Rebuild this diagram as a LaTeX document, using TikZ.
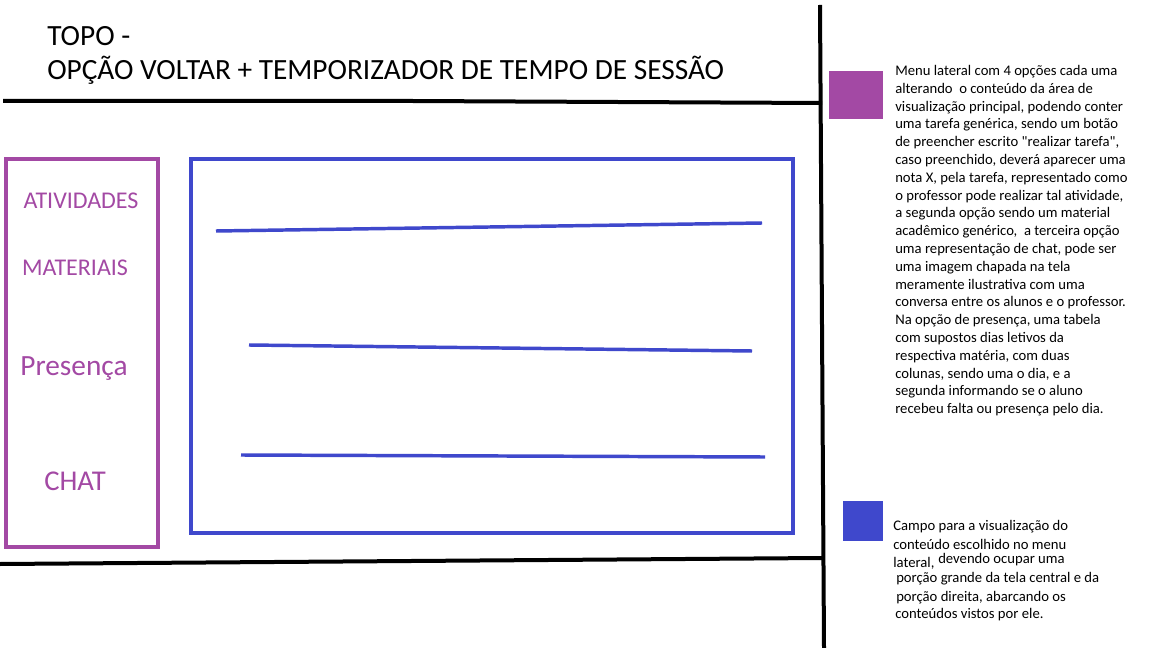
\documentclass[tikz,border=0pt]{standalone}
\usepackage{fontspec}
\setmainfont{Carlito}
\definecolor{mpurple}{HTML}{A349A4}
\definecolor{mblue}{HTML}{3F48CC}
\begin{document}
\begin{tikzpicture}[x=0.75pt,y=-0.75pt,
  blk/.style={line width=3pt,black},
  pbox/.style={draw=mpurple,line width=3pt},
  bbox/.style={draw=mblue,line width=3pt},
  bline/.style={draw=mblue,line width=2.6pt},
  title/.style={anchor=base west,inner sep=0pt,font=\fontsize{22}{26}\selectfont},
  menu/.style={inner sep=0pt,text=mpurple,font=\fontsize{18}{22}\selectfont},
  note/.style={anchor=base west,inner sep=0pt,font=\fontsize{11}{13}\selectfont}]
\useasboundingbox[fill=white] (0,0) rectangle (1152,648);
% structural lines
\coordinate (vt) at (820,5);
\coordinate (vb) at (824,648);
\draw[blk] (vt) -- (vb);
\coordinate (tl) at (3,101);
\coordinate (tr) at (822,103);
\draw[blk] (tl) -- (412,101) -- (tr);
\coordinate (bl) at (0,564);
\coordinate (br) at (822,558);
\draw[blk] (bl) -- (tr |- br);
% title
\node[title] (t1) at (47,46) {TOPO -};
\node[title] (t2) at (47,80) {OPÇÃO VOLTAR + TEMPORIZADOR DE TEMPO DE SESSÃO};
% menu
\draw[pbox] (6,159) rectangle (158,547);
\node[menu] (m1) at (81,201) {ATIVIDADES};
\node[menu] (m2) at (75,268) {MATERIAIS};
\node[menu,font=\fontsize{22}{26}\selectfont] (m3) at (74,369) {Presença};
\node[menu,font=\fontsize{21.5}{26}\selectfont] (m4) at (75,481) {CHAT};
% content
\draw[bbox] (191,159) rectangle (793,533);
\coordinate (l1a) at (216,231); \coordinate (l1b) at (762,223);
\coordinate (l2a) at (249,345); \coordinate (l2b) at (752,351);
\coordinate (l3a) at (241,455); \coordinate (l3b) at (765,457);
\draw[bline] (l1a) -- (l1b);
\draw[bline] (l2a) -- (l2b);
\draw[bline] (l3a) -- (l3b);
% legend squares
\fill[mpurple] (829,71) rectangle (883,119);
\fill[mblue] (843,501) rectangle (883,541);
% notes
\foreach \t [count=\i from 0] in {
 {Menu lateral com 4 opções cada uma},
 {alterando\ \ o conteúdo da área de},
 {visualização principal, podendo conter},
 {uma tarefa genérica, sendo um botão},
 {de preencher escrito \textquotedbl realizar tarefa\textquotedbl,},
 {caso preenchido, deverá aparecer uma},
 {nota X, pela tarefa, representado como},
 {o professor pode realizar tal atividade,},
 {a segunda opção sendo um material},
 {acadêmico genérico,\ \ a terceira opção},
 {uma representação de chat, pode ser},
 {uma imagem chapada na tela},
 {meramente ilustrativa com uma},
 {conversa entre os alunos e o professor.},
 {Na opção de presença, uma tabela},
 {com supostos dias letivos da},
 {respectiva matéria, com duas},
 {colunas, sendo uma o dia, e a},
 {segunda informando se o aluno},
 {recebeu falta ou presença pelo dia.}}
 \node[note] (n\i) at (895,{75.5+17.8*\i}) {\t};
\node[note] (c1) at (893,530) {Campo para a visualização do};
\node[note] (c2) at (893,549) {conteúdo escolhido no menu};
\node[note] (c3) at (893,567) {lateral,};
\node[note] (c4) at (938,563) {devendo ocupar uma};
\node[note] (c5) at (896,582) {porção grande da tela central e da};
\node[note] (c6) at (896,601) {porção direita, abarcando os};
\node[note] (c7) at (895,618) {conteúdos vistos por ele.};
\end{tikzpicture}
\end{document}
